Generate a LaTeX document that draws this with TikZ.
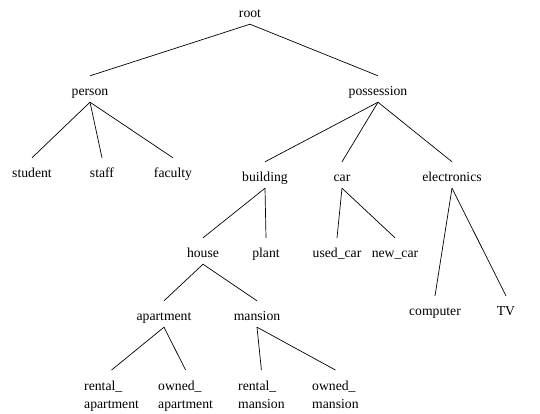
\documentclass[tikz,border=0pt]{standalone}
\usepackage{fontspec}
\setmainfont{Liberation Serif}

\begin{document}
\begin{tikzpicture}[
    x=1pt, y=-1pt,
    every node/.style={font=\fontsize{13.7}{18}\selectfont},
    TermShape/.style={anchor=base, inner xsep=1pt, inner ysep=0pt,
        text height=19pt, text depth=7pt},
    PairShape/.style={anchor=north west, align=left, inner xsep=0pt,
        inner ysep=11pt},
    branch/.style={line width=0.7pt, draw=black}
]
\useasboundingbox (0,0) rectangle (540,413);

\node (root) [TermShape] at (250,17) {root};

\node (person) [TermShape] at (90,95) {person};
\node (possession) [TermShape] at (378,95) {possession};

\node (student) [TermShape] at (32,177) {student};
\node (staff) [TermShape] at (102,177) {staff};
\node (faculty) [TermShape] at (173,177) {faculty};

\node (building) [TermShape] at (265,181) {building};
\node (car) [TermShape] at (342,181) {car};
\node (electronics) [TermShape] at (452,181) {electronics};

\node (house) [TermShape] at (203,257) {house};
\node (plant) [TermShape] at (266,257) {plant};
\node (usedCar) [TermShape] at (337,257) {used\_car};
\node (newCar) [TermShape] at (395,257) {new\_car};

\node (computer) [TermShape] at (435,315) {computer};
\node (tv) [TermShape] at (506,315) {TV};

\node (apartment) [TermShape] at (164,320) {apartment};
\node (mansion) [TermShape] at (257,320) {mansion};

\node (rentalApt) [PairShape] at (84,370) {rental\_\\apartment};
\node (ownedApt) [PairShape] at (158,370) {owned\_\\apartment};
\node (rentalMan) [PairShape] at (238,370) {rental\_\\mansion};
\node (ownedMan) [PairShape] at (312,370) {owned\_\\mansion};

% branches
\draw [branch] (root.south) -- (person.north);
\draw [branch] (root.south) -- (possession.north);
\draw [branch] (person.south) -- (student.north);
\draw [branch] (person.south) -- (staff.north);
\draw [branch] (person.south) -- (faculty.north);
\draw [branch] (possession.south) -- (building.north);
\draw [branch] (possession.south) -- (car.north);
\draw [branch] (possession.south) -- (electronics.north);
\draw [branch] (building.south) -- (house.north);
\draw [branch] (building.south) -- (plant.north);
\draw [branch] (car.south) -- (usedCar.north);
\draw [branch] (car.south) -- (newCar.north);
\draw [branch] (electronics.south) -- (computer.north);
\draw [branch] (electronics.south) -- (tv.north);
\draw [branch] (house.south) -- (apartment.north);
\draw [branch] (house.south) -- (mansion.north);
\draw [branch] (apartment.south) -- (rentalApt.north);
\draw [branch] (apartment.south) -- (ownedApt.north);
\draw [branch] (mansion.south) -- (rentalMan.north);
\draw [branch] (mansion.south) -- (ownedMan.north);
\end{tikzpicture}
\end{document}
